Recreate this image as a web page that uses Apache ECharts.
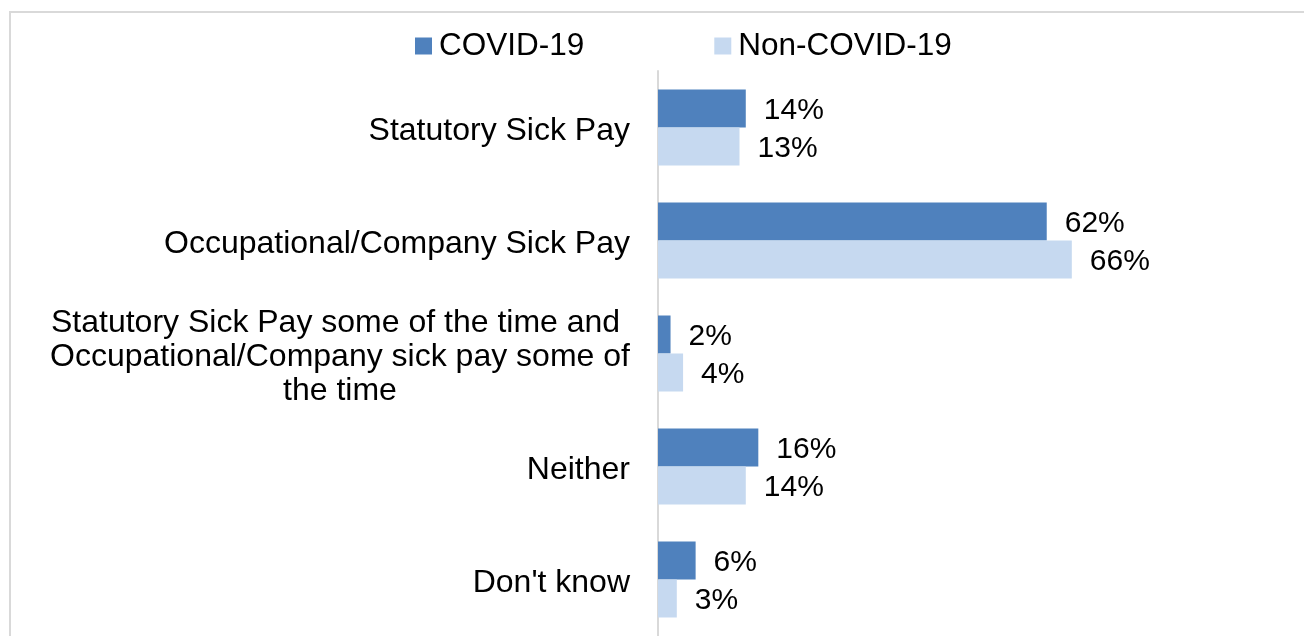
<!DOCTYPE html>
<html>
<head>
<meta charset="utf-8">
<title>Sick pay received</title>
<script src="https://cdn.jsdelivr.net/npm/echarts@6/dist/echarts.min.js"></script>
<style>
  html, body { margin: 0; padding: 0; background: #fff; }
  #chart { width: 1304px; height: 636px; }
</style>
</head>
<body>
<div id="chart"></div>
<script>
// Type of sick pay received, by reason for absence (%)
const categories = [
  'Statutory Sick Pay',
  'Occupational/Company Sick Pay',
  'Statutory Sick Pay some of the time and \nOccupational/Company sick pay some of\nthe time',
  'Neither',
  "Don't know"
];
const seriesNames = ['COVID-19', 'Non-COVID-19'];
const covidValues = [14, 62, 2, 16, 6];
const nonCovidValues = [13, 66, 4, 14, 3];

const FONT = '"Liberation Sans", Arial, sans-serif';

const chart = echarts.init(document.getElementById('chart'), null, { renderer: 'canvas' });

const labelStyle = {
  show: true,
  position: 'right',
  distance: 18,
  offset: [0, 2],
  formatter: '{c}%',
  color: '#000',
  fontFamily: FONT,
  fontSize: 30
};

chart.setOption({
  animation: false,
  backgroundColor: '#fff',
  graphic: [{
    type: 'rect',
    shape: { x: 10, y: 12, width: 1400, height: 700 },
    style: { fill: 'none', stroke: '#d9d9d9', lineWidth: 2 },
    silent: true,
    z: -1
  }],
  legend: {
    data: seriesNames,
    left: 415,
    top: 30,
    padding: 0,
    itemWidth: 17,
    itemHeight: 17,
    itemGap: 130,
    icon: 'rect',
    textStyle: { fontFamily: FONT, fontSize: 31.5, color: '#000', padding: [0, 0, 0, 2] }
  },
  grid: {
    left: 658,
    top: 71,
    right: 19,
    height: 567.5,
    containLabel: false
  },
  xAxis: {
    type: 'value',
    min: 0,
    max: 100,
    show: false
  },
  yAxis: {
    type: 'category',
    data: categories,
    inverse: true,
    axisLine: { show: true, lineStyle: { color: '#d9d9d9', width: 2 } },
    axisTick: { show: false },
    splitLine: { show: false },
    axisLabel: {
      margin: 28,
      color: '#000',
      fontFamily: FONT,
      fontSize: 32,
      lineHeight: 34,
      padding: [8, 0, 0, 0],
      formatter: function (value) {
        if (value.indexOf('\n') >= 0) {
          return value.split('\n').map(function (line) { return '{c|' + line + '}'; }).join('\n');
        }
        return value;
      },
      rich: {
        c: {
          width: 580,
          align: 'center',
          fontFamily: FONT,
          fontSize: 32,
          lineHeight: 34,
          color: '#000'
        }
      }
    }
  },
  series: [
    {
      name: seriesNames[0],
      type: 'bar',
      data: covidValues,
      barWidth: 38,
      barGap: '0%',
      itemStyle: { color: '#4F81BD' },
      label: labelStyle
    },
    {
      name: seriesNames[1],
      type: 'bar',
      data: nonCovidValues,
      barWidth: 38,
      barGap: '0%',
      itemStyle: { color: '#C6D9F0' },
      label: labelStyle
    }
  ]
});
</script>
</body>
</html>
